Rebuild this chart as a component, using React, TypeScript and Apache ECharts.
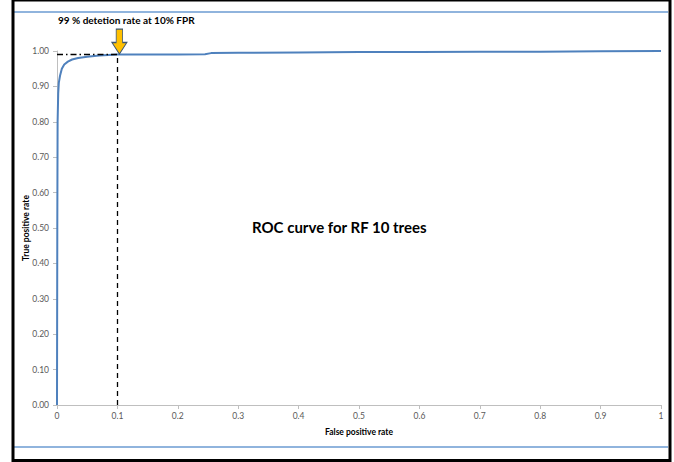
import React, { useEffect, useRef } from "react";
import * as echarts from "echarts";

const fpr = [0, 0.0005, 0.001, 0.002, 0.003, 0.005, 0.008, 0.012, 0.018, 0.025, 0.035, 0.05, 0.07, 0.1, 0.15, 0.2, 0.245, 0.255, 0.3, 0.4, 0.5, 0.6, 0.7, 0.8, 0.9, 1.0];
const tpr = [0, 0.5, 0.8, 0.88, 0.91, 0.93, 0.95, 0.962, 0.97, 0.976, 0.98, 0.984, 0.987, 0.99, 0.99, 0.99, 0.991, 0.994, 0.995, 0.996, 0.997, 0.997, 0.998, 0.998, 0.999, 1.0];
const markFpr = 0.1;
const markTpr = 0.99;
const annotation = "99 % detetion rate at 10% FPR";
const chartTitle = "ROC curve for RF 10 trees";
const xName = "False positive rate";
const yName = "True positive rate";

const FONT = "Lato, 'Liberation Sans', sans-serif";

export default function App() {
  const ref = useRef<HTMLDivElement>(null);
  useEffect(() => {
    if (!ref.current) return;
    const chart = echarts.init(ref.current, undefined, { renderer: "svg" });
    const data = fpr.map((x, i) => [x, tpr[i]]);
    const arrowPath = "path://M4,0 L10,0 L10,14 L14,14 L7,26 L0,14 L4,14 Z";
    chart.setOption({
      animation: false,
      backgroundColor: "#ffffff",
      textStyle: { fontFamily: FONT },
      title: {
        text: chartTitle,
        left: 247,
        top: 214,
        textStyle: { fontFamily: FONT, fontSize: 15, fontWeight: "bold", color: "#000" },
      },
      grid: { left: 57, right: 13, top: 51, bottom: 57, containLabel: false },
      xAxis: {
        type: "value",
        min: 0,
        max: 1,
        interval: 0.1,
        name: xName,
        nameLocation: "middle",
        nameGap: 22,
        nameMoveOverlap: false,
        nameTextStyle: { fontFamily: FONT, fontSize: 8.5, fontWeight: "bold", color: "#000" },
        axisLine: { show: true, lineStyle: { color: "#bfbfbf", width: 1 } },
        axisTick: { show: true, length: 4, inside: false, lineStyle: { color: "#bfbfbf" } },
        axisLabel: { fontFamily: FONT, fontSize: 8.5, color: "#595959", margin: 6 },
        splitLine: { show: false },
      },
      yAxis: {
        type: "value",
        min: 0,
        max: 1,
        interval: 0.1,
        name: yName,
        nameLocation: "middle",
        nameGap: 27,
        nameMoveOverlap: false,
        nameRotate: 90,
        nameTextStyle: { fontFamily: FONT, fontSize: 8.5, fontWeight: "bold", color: "#000" },
        axisLine: { show: true, lineStyle: { color: "#bfbfbf", width: 1 } },
        axisTick: { show: true, length: 4, inside: false, lineStyle: { color: "#bfbfbf" } },
        axisLabel: {
          fontFamily: FONT,
          fontSize: 8.5,
          color: "#595959",
          margin: 8,
          formatter: (v: number) => v.toFixed(2),
        },
        splitLine: { show: false },
      },
      graphic: [
        {
          type: "rect",
          shape: { x: 13, y: 0, width: 657, height: 460.5 },
          style: { fill: "none", stroke: "#000", lineWidth: 3 },
          silent: true,
          z: 100,
        },
        {
          type: "line",
          shape: { x1: 14, y1: 12, x2: 668, y2: 12 },
          style: { stroke: "#6b9bd2", lineWidth: 1.5 },
          silent: true,
        },
        {
          type: "line",
          shape: { x1: 14, y1: 447, x2: 668, y2: 447 },
          style: { stroke: "#6b9bd2", lineWidth: 1.5 },
          silent: true,
        },
        {
          type: "text",
          left: 58,
          top: 15,
          style: {
            text: annotation,
            fontFamily: FONT,
            fontSize: 10,
            fontWeight: "bold",
            fill: "#000",
          },
        },
      ],
      series: [
        {
          type: "line",
          data,
          showSymbol: false,
          symbol: "none",
          smooth: false,
          lineStyle: { color: "#4f81bd", width: 2 },
          z: 3,
          markLine: {
            silent: true,
            symbol: "none",
            label: { show: false },
            data: [
              [
                { coord: [markFpr, 0], lineStyle: { color: "#000", type: [5, 4], width: 1.3 } },
                { coord: [markFpr, markTpr] },
              ],
              [
                { coord: [0, markTpr], lineStyle: { color: "#000", type: [6, 3, 1.5, 3], width: 1.3 } },
                { coord: [markFpr, markTpr] },
              ],
            ],
          },
          markPoint: {
            silent: true,
            symbol: arrowPath,
            symbolSize: [15, 25],
            symbolKeepAspect: false,
            symbolOffset: [2, -13],
            itemStyle: { color: "#ffc000", borderColor: "#3b5573", borderWidth: 1 },
            label: { show: false },
            data: [{ coord: [markFpr, markTpr] }],
          },
        },
      ],
    });
    return () => chart.dispose();
  }, []);
  return (
    <div
      ref={ref}
      style={{ position: "absolute", left: 0, top: 0, width: 674, height: 462 }}
    />
  );
}
